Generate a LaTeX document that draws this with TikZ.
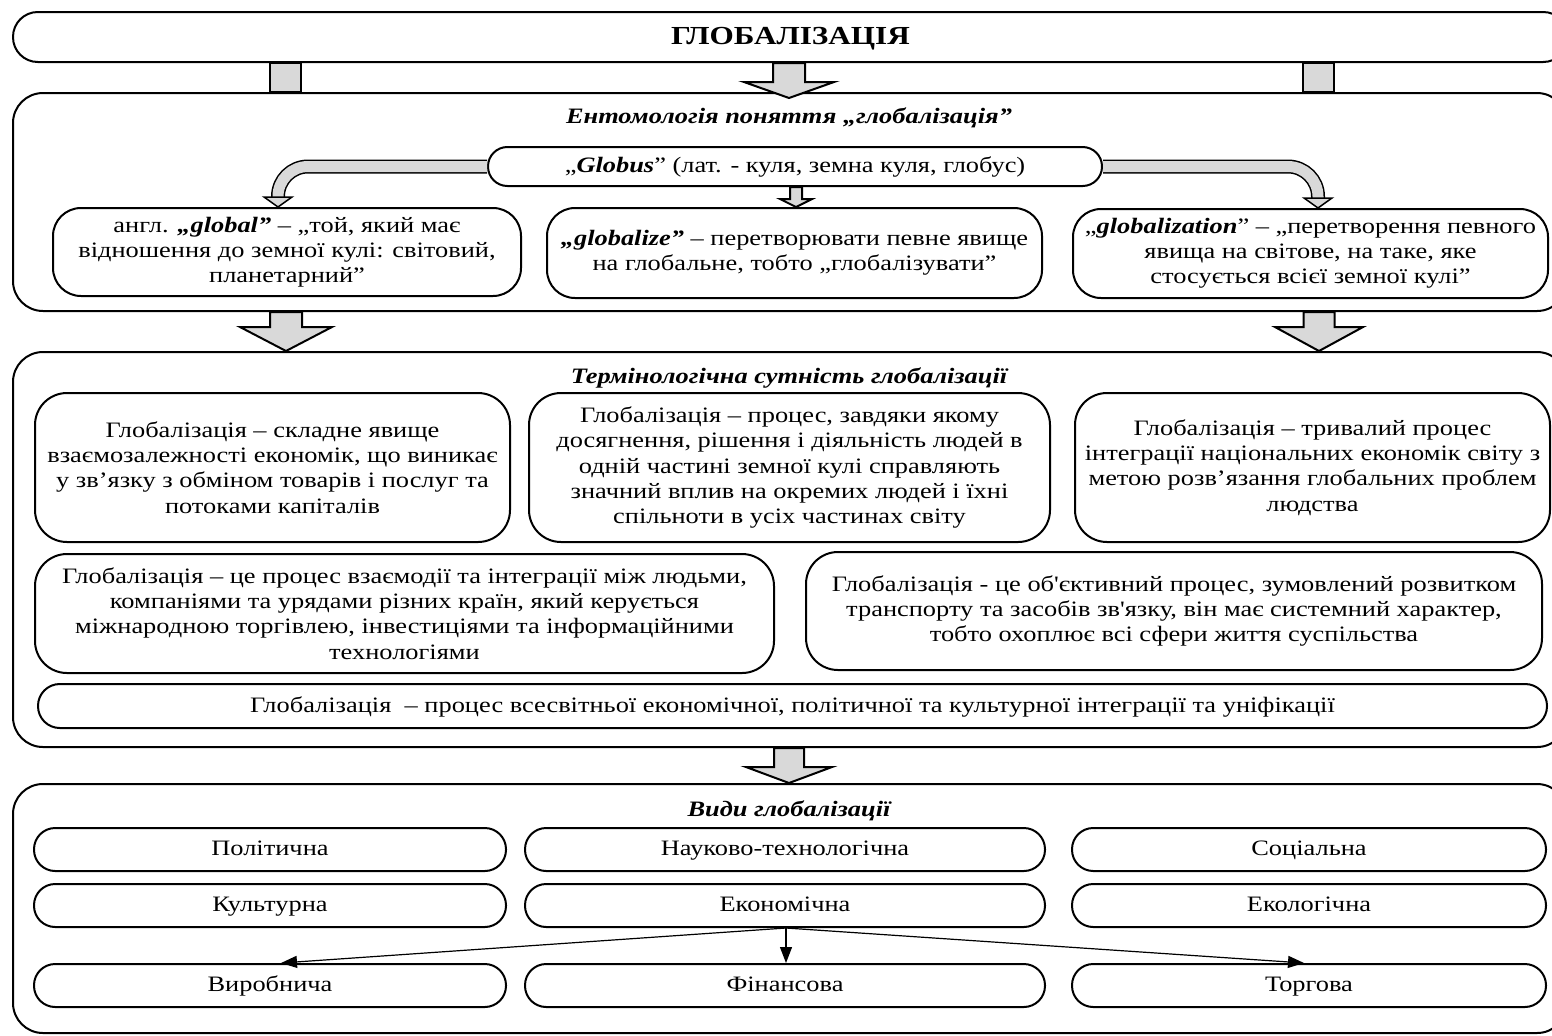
\documentclass[tikz,border=0pt]{standalone}
\usepackage{fontspec}
\setmainfont{Liberation Serif}[Ligatures=TeXOff,FakeStretch=1.2]
\usetikzlibrary{arrows.meta,calc}
\definecolor{arrgray}{RGB}{217,217,217}
\newcommand\bodyfont{\fontsize{11}{12.6}\selectfont}
\tikzset{
  box/.style={draw,line width=1pt,fill=white,rounded corners=15pt,align=center,inner sep=0pt,font=\bodyfont},
  oneline/.style={text height=8.4pt,text depth=2pt},
  pill/.style={box,oneline,rounded corners=10.6pt},
  sectitle/.style={font=\fontsize{11}{13}\selectfont\bfseries\itshape,inner sep=0pt,oneline},
  blockar/.style={draw,line width=1pt,fill=arrgray,line join=miter},
  band/.style={line width=0.75pt,double=arrgray,double distance=5.5pt,rounded corners=15pt},
  headar/.style={draw,line width=0.75pt,fill=arrgray,line join=miter},
  thinarr/.style={-{Triangle[length=8pt,width=6pt]},line width=0.6pt}
}
\newcommand\blockarrow[7]{% x(px), from, to, shaft half, head half, head len, overshoot
  \draw[blockar] let \p1=(#2.south), \p2=(#3.north) in
   ({(#1-#4)*0.5pt},\y1) -- ({(#1-#4)*0.5pt},{\y2-(#7-#6)*0.5pt})
   -- ({(#1-#5)*0.5pt},{\y2-(#7-#6)*0.5pt}) -- ({#1*0.5pt},{\y2-#7*0.5pt})
   -- ({(#1+#5)*0.5pt},{\y2-(#7-#6)*0.5pt}) -- ({(#1+#4)*0.5pt},{\y2-(#7-#6)*0.5pt})
   -- ({(#1+#4)*0.5pt},\y1) -- cycle;}
\newcommand\blockrect[4]{% x1, x2 (px), from, to
  \draw[blockar] let \p1=(#3.south), \p2=(#4.north) in
   ({#1*0.5pt},\y1) rectangle ({#2*0.5pt},\y2);}
\begin{document}
\begin{tikzpicture}[x=0.5pt,y=-0.5pt]
\useasboundingbox (0,0) rectangle (1552,1035);
\clip (0,0) rectangle (1552,1035);
% top
\node[box,minimum width=777.5pt,minimum height=25pt,rounded corners=12.4pt,text height=9.6pt,text depth=2.4pt,font=\fontsize{13}{15}\selectfont\bfseries] (T) at (790.5,37) {ГЛОБАЛІЗАЦІЯ};
% section frames
\node[box,minimum width=777pt,minimum height=109pt] (S1) at (790,202) {};
\node[box,minimum width=777pt,minimum height=197.5pt] (S2) at (790,549.5) {};
\node[box,minimum width=777pt,minimum height=124.5pt] (S3) at (790,908.5) {};
% block connectors
\blockrect{270}{301}{T}{S1}
\blockrect{1303}{1334}{T}{S1}
\blockarrow{789}{T}{S1}{16}{45}{16}{6}
\blockarrow{286}{S1}{S2}{16}{46}{24}{0}
\blockarrow{1319}{S1}{S2}{15.5}{44}{24}{0}
\blockarrow{789}{S2}{S3}{15}{43}{16}{0}
% section 1
\node[sectitle] (t1) at (789,117) {Ентомологія поняття „глобалізація”};
\node[box,oneline,minimum width=307pt,minimum height=19.5pt,rounded corners=9.7pt] (G) at (795,166.5) {„\textbf{\textit{Globus}}” (лат. - куля, земна куля, глобус)};
\node[box,minimum width=234pt,minimum height=44pt,rounded corners=14pt] (gl) at (287,252) {англ. \textbf{\textit{„global”}} – „той, який має\\відношення до земної кулі: світовий,\\планетарний”};
\node[box,minimum width=247.5pt,minimum height=45pt,rounded corners=14pt] (gz) at (794.5,253) {\textbf{\textit{„globalize”}} – перетворювати певне явище\\на глобальне, тобто „глобалізувати”};
\node[box,minimum width=237.5pt,minimum height=44.5pt,rounded corners=14pt] (gn) at (1310.5,253.5) {„\textbf{\textit{globalization}}” – „перетворення певного\\явища на світове, на таке, яке\\стосується всієї земної кулі”};
\coordinate (lc) at ([xshift=-4.5pt]gl.north);
\coordinate (rc) at ([xshift=3.75pt]gn.north);
\draw[band] (G.west) -- (G.west -| lc) -- ([yshift=5pt]lc);
\draw[headar] ([shift={(-7pt,5pt)}]lc) -- ([shift={(7pt,5pt)}]lc) -- (lc) -- cycle;
\draw[band] (G.east) -- (G.east -| rc) -- ([yshift=5pt]rc);
\draw[headar] ([shift={(-7pt,5pt)}]rc) -- ([shift={(7pt,5pt)}]rc) -- (rc) -- cycle;
\blockarrow{796}{G}{gz}{6}{16}{8}{0}
% section 2
\node[sectitle] (t2) at (789,377) {Термінологічна сутність глобалізації};
\node[box,minimum width=237.5pt,minimum height=74.5pt,rounded corners=16pt] (A) at (272.5,467.5) {Глобалізація – складне явище\\взаємозалежності економік, що виникає\\у зв’язку з обміном товарів і послуг та\\потоками капіталів};
\node[box,minimum width=260.5pt,minimum height=74.5pt,rounded corners=16pt] (B) at (789.5,467.5) {Глобалізація – процес, завдяки якому\\досягнення, рішення і діяльність людей в\\одній частині земної кулі справляють\\значний вплив на окремих людей і їхні\\спільноти в усіх частинах світу};
\node[box,minimum width=237.5pt,minimum height=74.5pt,rounded corners=16pt] (C) at (1312.5,467.5) {Глобалізація – тривалий процес\\інтеграції національних економік світу з\\метою розв’язання глобальних проблем\\людства};
\node[box,minimum width=369.5pt,minimum height=59.5pt,rounded corners=16pt] (D) at (404.5,613.5) {Глобалізація – це процес взаємодії та інтеграції між людьми,\\компаніями та урядами різних країн, який керується\\міжнародною торгівлею, інвестиціями та інформаційними\\технологіями};
\node[box,minimum width=368pt,minimum height=59pt,rounded corners=16pt] (E) at (1174,611) {Глобалізація - це об'єктивний процес, зумовлений розвитком\\транспорту та засобів зв'язку, він має системний характер,\\тобто охоплює всі сфери життя суспільства};
\node[box,oneline,minimum width=754.5pt,minimum height=22pt,rounded corners=10.9pt] (F) at (792.5,706) {Глобалізація\ \ – процес всесвітньої економічної, політичної та культурної інтеграції та уніфікації};
% section 3
\node[sectitle] (t3) at (789,810) {Види глобалізації};
\node[pill,minimum width=236pt,minimum height=21.5pt] (p1) at (270,849.5) {Політична};
\node[pill,minimum width=260pt,minimum height=21.5pt] (p2) at (785,849.5) {Науково-технологічна};
\node[pill,minimum width=237pt,minimum height=21.5pt] (p3) at (1309,849.5) {Соціальна};
\node[pill,minimum width=236pt,minimum height=21.5pt] (k1) at (270,905.5) {Культурна};
\node[pill,minimum width=260pt,minimum height=21.5pt] (k2) at (785,905.5) {Економічна};
\node[pill,minimum width=237pt,minimum height=21.5pt] (k3) at (1309,905.5) {Екологічна};
\node[pill,minimum width=236pt,minimum height=21.5pt] (v1) at (270,985.5) {Виробнича};
\node[pill,minimum width=260pt,minimum height=21.5pt] (v2) at (785,985.5) {Фінансова};
\node[pill,minimum width=237pt,minimum height=21.5pt] (v3) at (1309,985.5) {Торгова};
\draw[thinarr] ([xshift=0.5pt]k2.south) -- ([xshift=5.5pt]v1.north);
\draw[thinarr] ([xshift=0.5pt]k2.south) -- ([xshift=0.5pt]v2.north);
\draw[thinarr] ([xshift=0.5pt]k2.south) -- ([xshift=-2.5pt]v3.north);
\end{tikzpicture}
\end{document}
